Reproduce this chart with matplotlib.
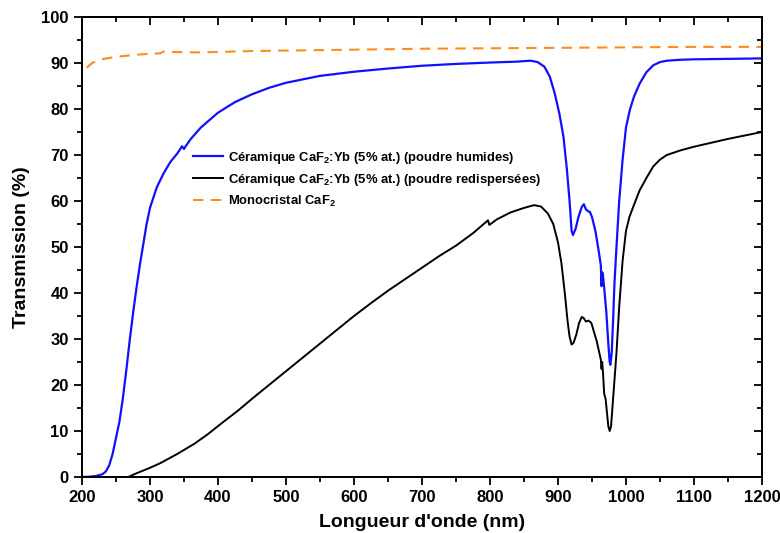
import matplotlib
matplotlib.use("Agg")
import matplotlib.pyplot as plt
from matplotlib.ticker import MultipleLocator

plt.rcParams['font.family'] = ['Liberation Sans', 'DejaVu Sans']
plt.rcParams['font.weight'] = 'bold'
plt.rcParams['mathtext.default'] = 'regular'

# Céramique CaF2:Yb (poudre humides)
wl_humide = [200, 210, 220, 230, 235, 240, 245, 250, 255, 260, 265, 270, 275, 280, 285, 290,
             295, 300, 310, 320, 330, 340, 347, 350, 352, 360, 375, 400, 425, 450, 475, 500,
             550, 600, 650, 700, 750, 800, 840, 860, 870, 880, 888, 895, 902, 908, 913, 917,
             920, 922, 926, 930, 935, 938, 941, 944, 947, 950, 955, 960, 963, 964, 965, 966,
             968, 971, 974, 976, 977, 979, 981, 983, 986, 990, 995, 1000, 1006, 1012, 1020,
             1030, 1040, 1050, 1060, 1080, 1100, 1150, 1200]
t_humide = [0, 0.05, 0.2, 0.6, 1.2, 2.5, 5, 8.5, 12, 17, 23, 29.5, 35.5, 41, 46, 50.5,
            55, 58.5, 63, 66, 68.5, 70.3, 71.9, 71.3, 71.8, 73.5, 76, 79.2, 81.5, 83.2, 84.6, 85.7,
            87.2, 88.1, 88.8, 89.4, 89.8, 90.1, 90.3, 90.5, 90.2, 89.2, 87, 83.5, 79, 74, 67, 60,
            53.5, 52.6, 54, 56.5, 58.7, 59.3, 58.2, 57.8, 57.6, 56.5, 53.5, 49, 46, 41.5, 44.5, 44,
            41, 36, 29, 25, 24.4, 27, 34, 42, 50, 60, 69, 76, 80, 82.8, 85.5,
            88, 89.5, 90.2, 90.5, 90.7, 90.8, 90.9, 91]

# Céramique CaF2:Yb (poudre redispersées)
wl_redisp = [268, 280, 300, 315, 340, 365, 385, 408, 430, 450, 475, 500, 525, 550, 575, 600,
             625, 650, 675, 700, 725, 750, 775, 797, 799, 810, 830, 850, 865, 875, 885, 893,
             900, 905, 910, 914, 917, 920, 923, 927, 931, 935, 938, 941, 945, 949, 953, 957,
             960, 963, 964, 965, 966, 968, 970, 972, 974, 976, 978, 980, 983, 986, 990, 995,
             1000, 1005, 1010, 1020, 1030, 1040, 1050, 1060, 1080, 1100, 1150, 1200]
t_redisp = [0, 0.8, 2, 3, 5, 7.2, 9.3, 12, 14.5, 17, 20, 23, 26, 29, 32, 35,
            37.8, 40.5, 43, 45.5, 48, 50.3, 53, 55.8, 54.8, 56, 57.5, 58.5, 59.1, 58.8, 57.3, 55,
            51, 46.5, 40, 34, 30.5, 28.8, 29.2, 31, 33.5, 34.8, 34.5, 33.8, 34, 33.5, 31.5, 29.5,
            27.5, 25.5, 23.5, 25, 23, 18, 17, 14, 11, 10, 11, 15, 21, 27, 37, 47,
            53.5, 56.5, 58.5, 62.3, 65, 67.5, 69, 70, 71, 71.8, 73.5, 75]

# Monocristal CaF2
wl_mono = [207, 215, 225, 240, 260, 280, 300, 315, 320, 330, 370, 400, 450, 500, 600, 700,
           800, 900, 1000, 1100, 1200]
t_mono = [89, 90, 90.7, 91.1, 91.5, 91.8, 92, 92.1, 92.5, 92.4, 92.3, 92.4, 92.6, 92.7, 92.9, 93.1,
          93.2, 93.3, 93.4, 93.5, 93.5]

labels = ["Céramique CaF$_2$:Yb (5% at.) (poudre humides)",
          "Céramique CaF$_2$:Yb (5% at.) (poudre redispersées)",
          "Monocristal CaF$_2$"]

fig = plt.figure(figsize=(7.8, 5.33), dpi=100)
ax = fig.add_axes([82/780, 1-477/533, (762-82)/780, (477-17)/533])

ax.plot(wl_humide, t_humide, color='#1010ff', lw=1.6, label=labels[0])
ax.plot(wl_redisp, t_redisp, color='black', lw=1.4, label=labels[1])
ax.plot(wl_mono, t_mono, color='#ff8c1a', lw=1.5, dashes=(5, 3.5), label=labels[2])

ax.set_xlim(200, 1200)
ax.set_ylim(0, 100)

def style_ticks(a):
    a.xaxis.set_major_locator(MultipleLocator(100))
    a.xaxis.set_minor_locator(MultipleLocator(50))
    a.yaxis.set_major_locator(MultipleLocator(10))
    a.yaxis.set_minor_locator(MultipleLocator(5))
    a.tick_params(which='both', width=1.3)
    a.tick_params(which='major', length=6)
    a.tick_params(which='minor', length=3.5)
    for s in a.spines.values():
        s.set_linewidth(1.3)

style_ticks(ax)
ax.tick_params(which='both', direction='out', top=False, right=False)

# top axis: inward ticks, no labels
axt = ax.twiny()
axt.set_xlim(200, 1200)
style_ticks(axt)
axt.tick_params(which='both', direction='in', labeltop=False, top=True)

# right axis: inward ticks, no labels
axr = ax.twinx()
axr.set_ylim(0, 100)
style_ticks(axr)
axr.tick_params(which='both', direction='in', labelright=False, right=True)

for lab in ax.get_xticklabels() + ax.get_yticklabels():
    lab.set_fontsize(12)
    lab.set_fontweight('bold')

ax.set_xlabel("Longueur d'onde (nm)", fontsize=14, fontweight='bold', labelpad=6)
ax.set_ylabel("Transmission (%)", fontsize=14, fontweight='bold', labelpad=8)

leg = ax.legend(loc='upper left', bbox_to_anchor=(0.1456, 0.737), frameon=False,
                prop={'size': 9.4, 'weight': 'bold'}, handlelength=2.3,
                handletextpad=0.4, labelspacing=0.45)

fig.savefig("out.png", dpi=100)
